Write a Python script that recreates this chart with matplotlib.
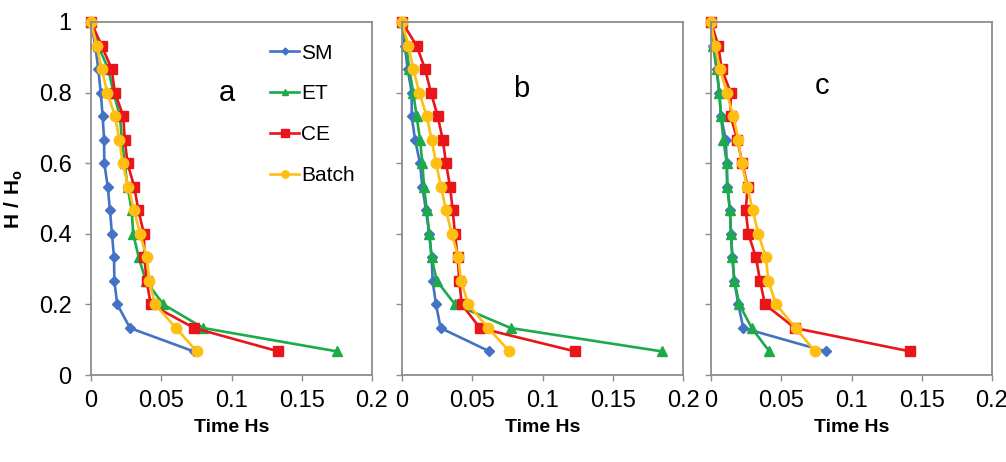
import numpy as np
import matplotlib
matplotlib.use('Agg')
import matplotlib.pyplot as plt
from matplotlib.ticker import FuncFormatter

plt.rcParams['font.family'] = ['Liberation Sans', 'DejaVu Sans']
plt.rcParams['mathtext.fontset'] = 'custom'
plt.rcParams['mathtext.bf'] = 'Liberation Sans:bold'
plt.rcParams['mathtext.rm'] = 'Liberation Sans'

# H/H0 levels, same for every series (steps of 1/15)
h = [1.0, 0.933, 0.867, 0.8, 0.733, 0.667, 0.6, 0.533, 0.467, 0.4, 0.333, 0.267, 0.2, 0.133, 0.067]

# panel a
sm_a = [0.0, 0.003, 0.0052, 0.0069, 0.0083, 0.0093, 0.0095, 0.0119, 0.0135, 0.0149, 0.0164, 0.0166, 0.0187, 0.0278, 0.073]
et_a = [0.0, 0.005, 0.0123, 0.016, 0.0206, 0.022, 0.024, 0.026, 0.029, 0.030, 0.034, 0.039, 0.0515, 0.080, 0.175]
ce_a = [0.0, 0.0076, 0.0147, 0.017, 0.023, 0.024, 0.026, 0.0308, 0.0337, 0.0377, 0.038, 0.0396, 0.0425, 0.0735, 0.1333]
ba_a = [0.0, 0.004, 0.0076, 0.0116, 0.0171, 0.0202, 0.0225, 0.0266, 0.0306, 0.0349, 0.0396, 0.0415, 0.0456, 0.0605, 0.0752]

# panel b
sm_b = [0.0, 0.002, 0.004, 0.0069, 0.0069, 0.0093, 0.0128, 0.0145, 0.017, 0.0194, 0.0211, 0.0218, 0.0242, 0.0275, 0.0622]
et_b = [0.0, 0.003, 0.0052, 0.008, 0.0104, 0.0128, 0.0145, 0.0157, 0.0176, 0.0194, 0.0211, 0.0247, 0.0377, 0.0774, 0.1848]
ce_b = [0.0, 0.0104, 0.0164, 0.0206, 0.0254, 0.029, 0.0313, 0.0342, 0.0361, 0.0377, 0.0396, 0.0408, 0.0425, 0.0555, 0.1231]
ba_b = [0.0, 0.0045, 0.008, 0.0123, 0.0176, 0.0211, 0.0242, 0.0278, 0.0313, 0.0354, 0.0401, 0.042, 0.0472, 0.0614, 0.0764]

# panel c
sm_c = [0.0, 0.0017, 0.004, 0.0059, 0.0071, 0.0105, 0.0112, 0.0116, 0.0135, 0.0142, 0.0152, 0.0166, 0.0194, 0.023, 0.0816]
et_c = [0.0, 0.0017, 0.004, 0.0059, 0.0071, 0.0088, 0.0112, 0.0116, 0.0135, 0.0142, 0.0152, 0.0166, 0.0202, 0.029, 0.0415]
ce_c = [0.0, 0.0052, 0.0076, 0.014, 0.014, 0.0187, 0.0223, 0.0261, 0.0247, 0.0266, 0.032, 0.0349, 0.0384, 0.0598, 0.1416]
ba_c = [0.0, 0.0028, 0.0064, 0.0112, 0.0159, 0.0194, 0.0218, 0.0258, 0.0297, 0.0337, 0.0391, 0.0408, 0.0463, 0.0603, 0.074]

panels = [('a', sm_a, et_a, ce_a, ba_a, 0.097, 0.80),
          ('b', sm_b, et_b, ce_b, ba_b, 0.085, 0.81),
          ('c', sm_c, et_c, ce_c, ba_c, 0.079, 0.82)]

names = ['SM', 'ET', 'CE', 'Batch']
colors = ['#4472C4', '#1DAA4A', '#E8151B', '#FFBE12']
markers = ['D', '^', 's', 'o']
msizes = [5, 7, 7.5, 7.5]

fig = plt.figure(figsize=(10.06, 4.62), dpi=100)
lefts = [91, 402, 711]
W, H = 1006., 462.
axw = 281 / W
axh = 353 / H
bot = 1 - 375 / H

grey = '#8c8c8c'
for i, (lab, sm, et, ce, ba, tx, ty) in enumerate(panels):
    ax = fig.add_axes([lefts[i] / W, bot, axw, axh])
    for ser, nm, c, m, ms in zip([sm, et, ce, ba], names, colors, markers, msizes):
        ax.plot(ser, h, color=c, marker=m, markersize=ms, lw=1.9, label=nm, clip_on=False)
    ax.set_xlim(0, 0.2)
    ax.set_ylim(0, 1)
    ax.set_xticks([0, 0.05, 0.1, 0.15, 0.2])
    ax.set_yticks([0, 0.2, 0.4, 0.6, 0.8, 1.0])
    ax.xaxis.set_major_formatter(FuncFormatter(lambda v, p: '%g' % v))
    ax.yaxis.set_major_formatter(FuncFormatter(lambda v, p: '%g' % v))
    for s in ax.spines.values():
        s.set_color(grey)
        s.set_linewidth(1.3)
    ax.tick_params(axis='both', direction='out', length=4, width=1, color=grey, labelsize=17)
    ax.tick_params(axis='x', pad=7)
    ax.tick_params(axis='y', pad=10)
    if i > 0:
        ax.tick_params(axis='y', labelleft=False)
    ax.set_xlabel('Time Hs', fontsize=14, fontweight='bold', labelpad=5)
    ax.text(tx, ty, lab, fontsize=21, ha='center', va='center')
    if i == 0:
        ax.set_ylabel(r'$\mathbf{H\ /\ H}_\mathbf{o}$', fontsize=15)
        ax.yaxis.set_label_coords(-0.235, 0.5)
        ax.legend(loc='upper left', bbox_to_anchor=(0.637, 0.939), frameon=False,
                  borderpad=0, borderaxespad=0, handlelength=1.4, handletextpad=0.1,
                  labelspacing=1.05, fontsize=15, markerscale=0.7)

fig.savefig('out.png', dpi=100)
